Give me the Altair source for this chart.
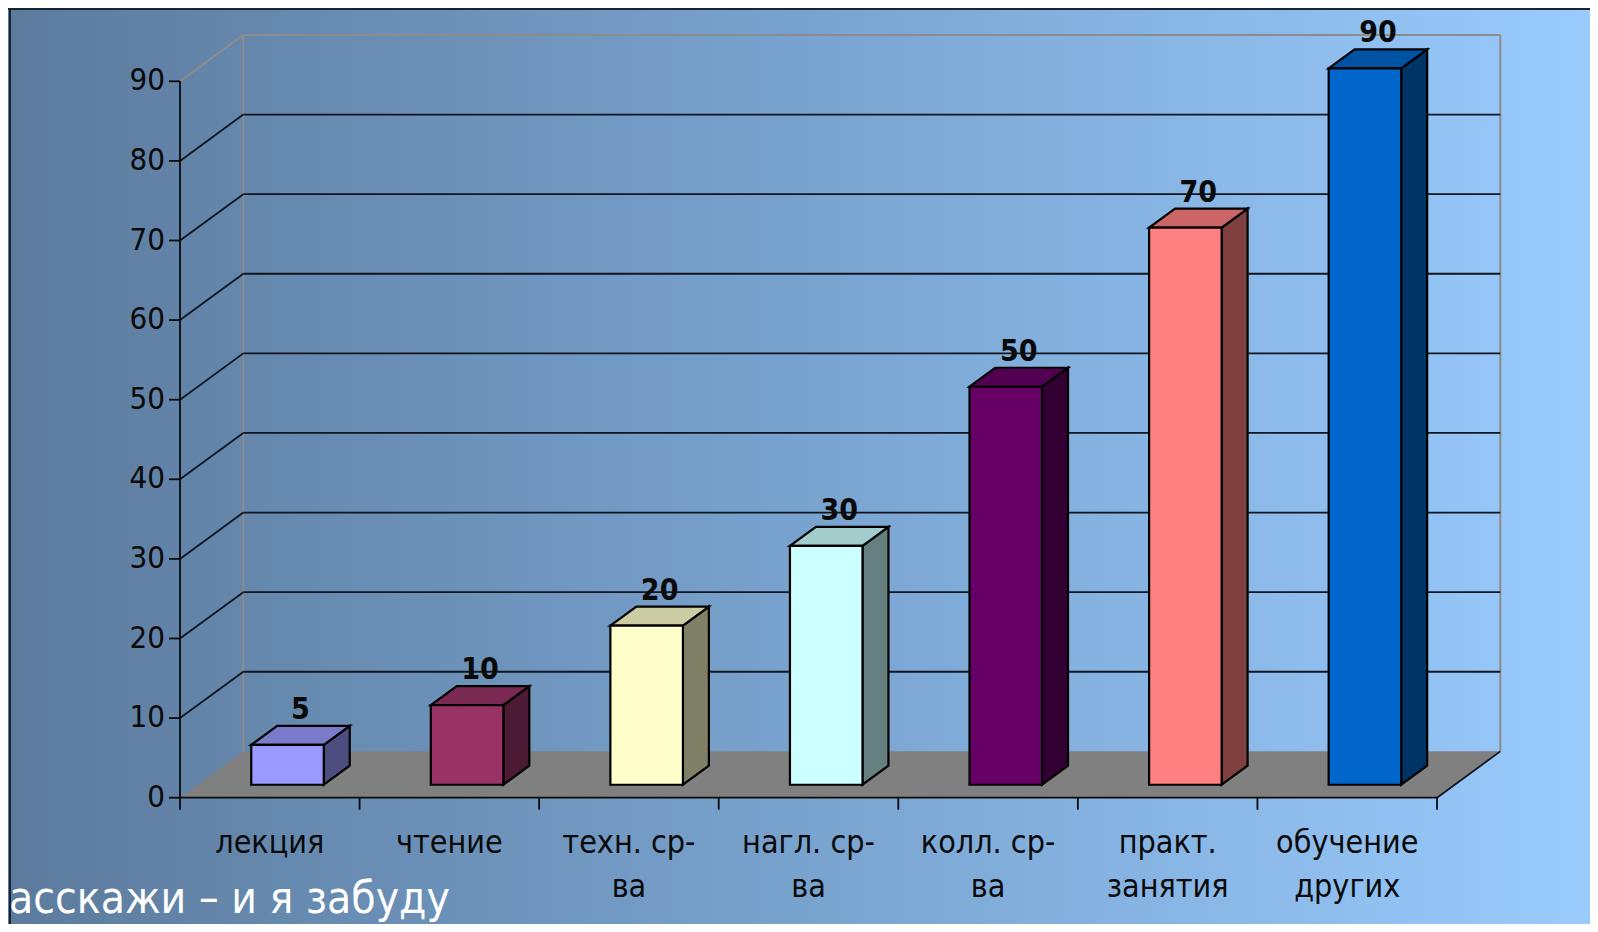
import altair as alt
import pandas as pd

# ---------------- data ----------------
categories = ["лекция", "чтение", "техн. ср-\nва", "нагл. ср-\nва", "колл. ср-\nва",
              "практ.\nзанятия", "обучение\nдругих"]
values = [5, 10, 20, 30, 50, 70, 90]
front_colors = ["#9999ff", "#993366", "#ffffcc", "#ccffff", "#660066", "#ff8080", "#0066cc"]
top_colors = ["#7b7bcc", "#7a2952", "#cccca3", "#a3cccc", "#520052", "#cc6666", "#0052a3"]
side_colors = ["#4d4d80", "#4d1a33", "#808066", "#668080", "#330033", "#804040", "#003366"]
y_ticks = [0, 10, 20, 30, 40, 50, 60, 70, 80, 90]
grid_levels = [10, 20, 30, 40, 50, 60, 70, 80]
caption = "асскажи – и я забуду"

# ---------------- geometry (style constants) ----------------
N = len(categories)
YMAX = 90
W = 1257          # plot width (7 categories)
H = 716.4         # plot height (0..90)
DX = 0.3525       # depth offset in category units
DY = 5.82         # depth offset in value units
BAR_FRONT = 0.28  # depth fraction where bar front face sits
BAR_DEPTH = 0.41  # depth fraction of bar
BAR_W = 0.404     # bar width in category units
FONT = "'DejaVu Sans Condensed', Tahoma, 'DejaVu Sans', sans-serif"
INK = "#0a0a0a"
PAD_L, PAD_T = 172, 73.3
TOTAL_W, TOTAL_H = 1582, 916
PAD_R = TOTAL_W - PAD_L - W
PAD_B = TOTAL_H - PAD_T - H

xs = alt.Scale(domain=[0, N], nice=False, zero=False)
ys = alt.Scale(domain=[0, YMAX], nice=False, zero=False)

# ---------------- derived tables ----------------
front_rows, side_rows, top_rows, label_rows = [], [], [], []
for i, (cat, v) in enumerate(zip(categories, values)):
    xc = i + 0.5 + BAR_FRONT * DX
    xl, xr = xc - BAR_W / 2, xc + BAR_W / 2
    y0 = BAR_FRONT * DY
    y1 = v + y0
    front_rows.append(dict(cat=cat, xl=xl, xr=xr, y0=y0, y1=y1, fill=front_colors[i]))
    for k in (0, 1):
        side_rows.append(dict(cat=cat, x=xr + k * BAR_DEPTH * DX,
                              lo=y0 + k * BAR_DEPTH * DY, hi=y1 + k * BAR_DEPTH * DY,
                              fill=side_colors[i]))
        top_rows.append(dict(cat=cat, y=y1 + k * BAR_DEPTH * DY,
                             xa=xl + k * BAR_DEPTH * DX, xb=xr + k * BAR_DEPTH * DX,
                             fill=top_colors[i]))
    label_rows.append(dict(x=xc + BAR_DEPTH / 2 * DX, y=y1 + BAR_DEPTH * DY, t=str(v)))

front_df = pd.DataFrame(front_rows)
side_df = pd.DataFrame(side_rows)
top_df = pd.DataFrame(top_rows)
label_df = pd.DataFrame(label_rows)

floor_df = pd.DataFrame([dict(y=k * DY, xa=k * DX, xb=N + k * DX) for k in (0, 1)])

grid_rows = []
for g in grid_levels:
    grid_rows.append(dict(x=0, y=g, x2=DX, y2=g + DY))
    grid_rows.append(dict(x=DX, y=g + DY, x2=N + DX, y2=g + DY))
grid_rows.append(dict(x=N, y=0, x2=N + DX, y2=DY))  # right floor edge
grid_df = pd.DataFrame(grid_rows)

wall_df = pd.DataFrame([
    dict(x=DX, y=DY, x2=DX, y2=YMAX + DY),
    dict(x=DX, y=YMAX + DY, x2=N + DX, y2=YMAX + DY),
    dict(x=N + DX, y=DY, x2=N + DX, y2=YMAX + DY),
    dict(x=0, y=YMAX, x2=DX, y2=YMAX + DY),
])

axis_df = pd.DataFrame([dict(x=0, y=0, x2=0, y2=YMAX), dict(x=0, y=0, x2=N, y2=0)])
ytick_df = pd.DataFrame({"v": y_ticks, "t": [str(t) for t in y_ticks]})
xtick_df = pd.DataFrame({"u": list(range(N + 1))})
cat_df = pd.DataFrame({"u": [i + 0.5 for i in range(N)], "t": categories})
one = pd.DataFrame({"a": [0]})

# ---------------- layers ----------------
bg = alt.Chart(one).mark_rect(
    fill=alt.LinearGradient(gradient="linear", x1=0, x2=1, y1=0, y2=0,
                            stops=[alt.GradientStop(color="#5c7b9d", offset=0),
                                   alt.GradientStop(color="#79a3cf", offset=0.5),
                                   alt.GradientStop(color="#99cbfd", offset=1)])
).encode(x=alt.value(-PAD_L), x2=alt.value(TOTAL_W - PAD_L),
         y=alt.value(-PAD_T), y2=alt.value(TOTAL_H - PAD_T))

floor = alt.Chart(floor_df).mark_area(orient="horizontal", color="#808080").encode(
    y=alt.Y("y:Q", scale=ys, axis=None),
    x=alt.X("xa:Q", scale=xs, axis=None),
    x2="xb:Q",
)

wall = alt.Chart(wall_df).mark_rule(color="#8c8c8c", strokeWidth=2).encode(
    x=alt.X("x:Q", scale=xs, axis=None), y=alt.Y("y:Q", scale=ys, axis=None),
    x2="x2:Q", y2="y2:Q")

grid = alt.Chart(grid_df).mark_rule(color="#10151f", strokeWidth=1.8).encode(
    x=alt.X("x:Q", scale=xs, axis=None), y=alt.Y("y:Q", scale=ys, axis=None),
    x2="x2:Q", y2="y2:Q")

axes = alt.Chart(axis_df).mark_rule(color=INK, strokeWidth=1.8).encode(
    x=alt.X("x:Q", scale=xs, axis=None), y=alt.Y("y:Q", scale=ys, axis=None),
    x2="x2:Q", y2="y2:Q")

yticks = alt.Chart(ytick_df).mark_rule(color=INK, strokeWidth=1.8).encode(
    y=alt.Y("v:Q", scale=ys, axis=None), x=alt.value(-11), x2=alt.value(0))

ylabels = alt.Chart(ytick_df).mark_text(
    align="right", baseline="middle", font=FONT, fontSize=31, color=INK
).encode(y=alt.Y("v:Q", scale=ys, axis=None), x=alt.value(-15), text="t:N")

xticks = alt.Chart(xtick_df).mark_rule(color=INK, strokeWidth=1.8).encode(
    x=alt.X("u:Q", scale=xs, axis=None), y=alt.value(H), y2=alt.value(H + 12))

xlabels = alt.Chart(cat_df).mark_text(
    align="center", baseline="alphabetic", font=FONT, fontSize=32, color=INK,
    lineBreak="\n", lineHeight=44
).encode(x=alt.X("u:Q", scale=xs, axis=None), y=alt.value(H + 55), text="t:N")

side = alt.Chart(side_df).mark_area(orient="vertical", stroke="black", strokeWidth=2.2,
                                    strokeJoin="miter").encode(
    x=alt.X("x:Q", scale=xs, axis=None), y=alt.Y("lo:Q", scale=ys, axis=None), y2="hi:Q",
    fill=alt.Fill("fill:N", scale=None), detail="cat:N")

top = alt.Chart(top_df).mark_area(orient="horizontal", stroke="black", strokeWidth=2.2,
                                  strokeJoin="miter").encode(
    y=alt.Y("y:Q", scale=ys, axis=None), x=alt.X("xa:Q", scale=xs, axis=None), x2="xb:Q",
    fill=alt.Fill("fill:N", scale=None), detail="cat:N")

front = alt.Chart(front_df).mark_rect(stroke="black", strokeWidth=2.2).encode(
    x=alt.X("xl:Q", scale=xs, axis=None), x2="xr:Q",
    y=alt.Y("y0:Q", scale=ys, axis=None), y2="y1:Q",
    fill=alt.Fill("fill:N", scale=None))

vlabels = alt.Chart(label_df).mark_text(
    align="center", baseline="alphabetic", dy=-7, font=FONT, fontSize=30,
    fontWeight="bold", color=INK
).encode(x=alt.X("x:Q", scale=xs, axis=None), y=alt.Y("y:Q", scale=ys, axis=None),
         text="t:N")

cap = alt.Chart(one).mark_text(
    align="left", baseline="alphabetic", font=FONT, fontSize=44, color="white"
).encode(x=alt.value(-PAD_L + 1), y=alt.value(913 - 81.3), text=alt.value(caption))

frame_top = alt.Chart(one).mark_rule(color="#1b2232", strokeWidth=2).encode(
    x=alt.value(-PAD_L), x2=alt.value(TOTAL_W - PAD_L), y=alt.value(-PAD_T + 1))
frame_left = alt.Chart(one).mark_rule(color="#1b2232", strokeWidth=2).encode(
    x=alt.value(-PAD_L + 2), y=alt.value(-PAD_T), y2=alt.value(TOTAL_H - PAD_T))

chart = alt.layer(
    bg, floor, wall, grid, axes, yticks, ylabels, xticks, xlabels,
    side, top, front, vlabels, frame_top, frame_left, cap
).properties(
    width=W, height=H, autosize="none",
    padding={"left": PAD_L, "top": PAD_T, "right": PAD_R, "bottom": PAD_B},
).configure_view(stroke=None)

chart.save("out.html", embed_options={"renderer": "svg", "actions": False})
